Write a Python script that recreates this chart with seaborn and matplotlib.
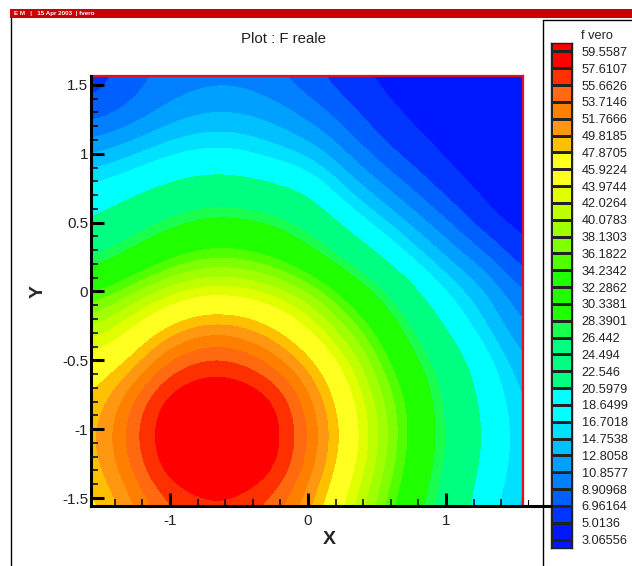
import numpy as np
import seaborn as sns
import matplotlib.pyplot as plt
from matplotlib.colors import ListedColormap, BoundaryNorm
from matplotlib.patches import Rectangle
from matplotlib.lines import Line2D

# legend labels, top to bottom
level_labels = ["59.5587", "57.6107", "55.6626", "53.7146", "51.7666", "49.8185", "47.8705", "45.9224",
                "43.9744", "42.0264", "40.0783", "38.1303", "36.1822", "34.2342", "32.2862", "30.3381",
                "28.3901", "26.442", "24.494", "22.546", "20.5979", "18.6499", "16.7018", "14.7538",
                "12.8058", "10.8577", "8.90968", "6.96164", "5.0136", "3.06556"]

# band colours, lowest band first
band_colors = ["#0018ff", "#0018ff", "#0034ff", "#0060ff", "#0080ff", "#00a0ff", "#00c0ff", "#00e0ff",
               "#00ffff", "#00ffff", "#00ff80", "#00ff80", "#00ff80", "#18ff50", "#20ff00", "#20ff00",
               "#20ff00", "#50ff00", "#80ff00", "#a0ff00", "#c0ff00", "#e0ff00", "#ffff20", "#ffff20",
               "#ffc000", "#ff9810", "#ff8000", "#ff6a10", "#ff3000", "#ff0000", "#ff0000"]

# field, grid from -pi/2 to pi/2 in both directions
grid_step = 0.2618
grid_edge = 1.571
f_rows = [
    [5.5, 7.8, 9.2, 9.9, 10.1, 9.2, 7.6, 5.6, 4.6, 4.2, 3.8, 3.5, 3.2],
    [7.5, 8.9, 11.0, 12.5, 12.6, 11.8, 10.0, 7.7, 5.4, 4.5, 4.1, 3.7, 3.4],
    [11.7, 13.3, 15.3, 16.4, 16.4, 15.0, 13.4, 10.5, 7.4, 5.3, 4.4, 3.9, 3.6],
    [16.6, 18.3, 20.3, 21.9, 21.9, 20.5, 18.9, 14.1, 10.8, 7.9, 5.2, 4.3, 3.8],
    [20.4, 23.3, 26.2, 28.7, 28.9, 27.6, 24.3, 19.1, 14.9, 11.5, 8.3, 4.9, 4.2],
    [25.0, 29.0, 33.0, 35.5, 35.7, 34.0, 30.5, 25.5, 20.3, 15.6, 12.0, 9.0, 5.0],
    [34.0, 37.5, 41.0, 43.3, 43.3, 41.7, 38.5, 33.5, 27.3, 20.9, 15.9, 12.7, 8.7],
    [40.0, 43.5, 47.9, 50.8, 50.7, 48.3, 44.0, 38.6, 33.1, 25.3, 19.4, 14.5, 10.6],
    [45.5, 48.0, 53.9, 56.6, 56.5, 53.7, 49.4, 43.4, 36.6, 29.2, 23.0, 17.7, 12.6],
    [47.7, 52.9, 58.6, 60.0, 60.0, 58.6, 52.9, 46.2, 39.0, 32.5, 24.0, 19.2, 14.0],
    [48.7, 54.5, 59.3, 60.4, 60.4, 59.3, 54.2, 47.3, 40.0, 32.6, 25.0, 19.7, 14.6],
    [48.3, 53.0, 58.6, 60.0, 60.0, 58.6, 53.0, 46.2, 39.0, 32.0, 24.0, 19.2, 14.3],
    [46.5, 50.5, 54.8, 56.8, 56.8, 54.5, 50.5, 43.5, 37.0, 29.5, 23.0, 17.8, 13.5],
]

W, H = 632, 566


def px_axes(fig, left, top, right, bottom):
    return fig.add_axes([left / W, 1 - bottom / H, (right - left) / W, (bottom - top) / H])


sns.set_style("white")
plt.rcParams["font.family"] = ["Liberation Sans", "DejaVu Sans"]

fig = plt.figure(figsize=(W / 100, H / 100), dpi=100)

# page furniture
fig.add_artist(Rectangle((10 / W, 1 - 18 / H), 622 / W, 9 / H, transform=fig.transFigure, color="#cc0000", lw=0))
fig.text(14 / W, 1 - 13.5 / H, "E M   |   15 Apr 2003  | fvero", color="white", fontsize=4.5, va="center", weight="bold")
fig.add_artist(Line2D([11 / W, 11 / W], [0, 1 - 18 / H], color="black", lw=1))
fig.add_artist(Line2D([542.5 / W, 542.5 / W], [0, 1 - 20 / H], color="black", lw=1))
fig.add_artist(Line2D([542.5 / W, 1], [1 - 20 / H, 1 - 20 / H], color="black", lw=1))
fig.text(283.5 / W, 1 - 39 / H, "Plot : F reale", ha="center", va="center", fontsize=10.8, color="#222222")

# main field, the band edges come from imshow's own smoothing of the read grid
ax = px_axes(fig, 91, 76, 523, 506)
levels = [-100.0] + [float(v) for v in level_labels[::-1]] + [100.0]
band_cmap = ListedColormap(band_colors)
half = grid_step / 2
ax.imshow(np.array(f_rows), cmap=band_cmap, norm=BoundaryNorm(levels, band_cmap.N),
          extent=[-grid_edge - half, grid_edge + half, -grid_edge - half, grid_edge + half],
          interpolation="bicubic", interpolation_stage="data", aspect="auto")
ax.set_xlim(-1.572, 1.558)
ax.set_ylim(-1.558, 1.565)
ax.set_axisbelow(False)
ax.set_xticks([-1, 0, 1])
ax.set_yticks([-1.5, -1, -0.5, 0, 0.5, 1, 1.5])
ax.set_yticklabels(["-1.5", "-1", "-0.5", "0", "0.5", "1", "1.5"], fontsize=11, color="#222222")
ax.set_xticklabels(["-1", "0", "1"], fontsize=11, color="#222222")
ax.set_xticks(np.arange(-1.4, 1.5, 0.2), minor=True)
ax.set_yticks(np.arange(-1.4, 1.5, 0.1), minor=True)
ax.tick_params(which="major", direction="in", length=9.5, width=2.2, color="black", bottom=True, left=True)
ax.tick_params(axis="x", which="major", pad=6)
ax.tick_params(axis="y", which="major", pad=2)
ax.tick_params(which="minor", direction="in", length=5, width=1.1, color="black", bottom=True, left=True)
for side in ["top", "right"]:
    ax.spines[side].set_color("#e01020")
    ax.spines[side].set_linewidth(1.6)
    ax.spines[side].set_visible(True)
for side in ["left", "bottom"]:
    ax.spines[side].set_color("black")
    ax.spines[side].set_linewidth(2.2)
    ax.spines[side].set_visible(True)
    ax.spines[side].set_zorder(5)
ax.set_xlabel("X", fontsize=14, weight="bold")
ax.set_ylabel("Y", fontsize=14, weight="bold")
ax.xaxis.set_label_coords(0.551, -0.058)
ax.yaxis.set_label_coords(-0.102, 0.5)

# axis line runs on to the legend, with the last small tick
fig.add_artist(Line2D([523 / W, 551 / W], [1 - 506 / H, 1 - 506 / H], color="black", lw=2.2))
fig.add_artist(Line2D([527.5 / W, 527.5 / W], [1 - 506 / H, 1 - 500 / H], color="black", lw=0.8))

# colour legend
cax = px_axes(fig, 550.5, 43, 572, 548)
cells = np.arange(len(band_colors))[::-1].reshape(-1, 1)
sns.heatmap(cells, ax=cax, cmap=band_cmap, cbar=False, linewidths=0.8, linecolor="#222222",
            vmin=-0.5, vmax=len(band_colors) - 0.5)
cax.set_ylim(30.5, 0.5)
cax.set_xticks([])
cax.set_yticks(np.arange(1, 31))
cax.set_yticklabels(level_labels, rotation=0, fontsize=9.2, color="#222222", ha="left")
cax.yaxis.tick_right()
cax.tick_params(axis="y", length=0, pad=7)
for spine in cax.spines.values():
    spine.set_visible(True)
    spine.set_color("#222222")
    spine.set_linewidth(1)
fig.text(581 / W, 1 - 36 / H, "f vero", fontsize=9.2, color="#222222", va="center")

fig.savefig("out.png", dpi=100, facecolor="white")
